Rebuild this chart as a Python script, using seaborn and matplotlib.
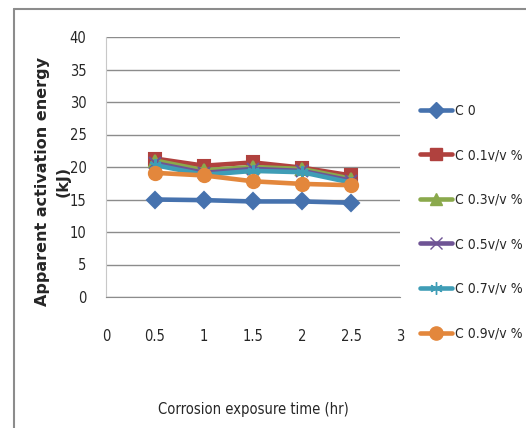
import matplotlib
matplotlib.use("Agg")
import matplotlib.pyplot as plt
import seaborn as sns
import pandas as pd
from matplotlib.lines import Line2D

time_hr = [0.5, 1.0, 1.5, 2.0, 2.5]
series_names = ["C 0", "C 0.1v/v %", "C 0.3v/v %", "C 0.5v/v %", "C 0.7v/v %", "C 0.9v/v %"]
c0 = [15.0, 14.9, 14.7, 14.7, 14.5]
c01 = [21.3, 20.2, 20.7, 19.9, 18.7]
c03 = [21.0, 19.5, 20.0, 19.7, 18.2]
c05 = [20.6, 19.1, 19.7, 19.4, 17.9]
c07 = [20.3, 18.8, 19.4, 19.2, 17.6]
c09 = [19.1, 18.7, 17.8, 17.4, 17.2]
x_ticks = [0, 0.5, 1, 1.5, 2, 2.5, 3]
x_tick_labels = ["0", "0.5", "1", "1.5", "2", "2.5", "3"]
y_ticks = [0, 5, 10, 15, 20, 25, 30, 35, 40]

values = [c0, c01, c03, c05, c07, c09]
rows = []
for name, vals in zip(series_names, values):
    for t, v in zip(time_hr, vals):
        rows.append({"time": t, "energy": v, "series": name})
df = pd.DataFrame(rows)

colors = ["#4672AE", "#B0413E", "#8AA94C", "#6F5495", "#3F9DB6", "#E3873C"]
markers = ["D", "s", "^", "x", (6, 2, 0), "o"]
msizes = [8, 8.5, 8.5, 8.5, 9, 9.5]

sns.set_style("white")
plt.rcParams["font.family"] = ["DejaVu Sans"]
narrow = dict(family=["DejaVu Sans"], stretch="condensed")

fig = plt.figure(figsize=(5.26, 4.28), dpi=100)
ax = fig.add_axes([106/526, (428-297)/428, (400-106)/526, (297-37)/428])

palette = dict(zip(series_names, colors))
sns.lineplot(data=df, x="time", y="energy", hue="series", palette=palette,
             hue_order=series_names, legend=False, ax=ax, linewidth=3.3)
for line, m, ms, c in zip(ax.get_lines(), markers, msizes, colors):
    line.set_marker(m)
    line.set_markersize(ms)
    line.set_markerfacecolor(c)
    line.set_markeredgecolor(c)
    line.set_markeredgewidth(1.5)

ax.set_xlim(0, 3)
ax.set_ylim(0, 40)
ax.set_xticks(x_ticks)
ax.set_xticklabels(x_tick_labels, fontdict=narrow)
ax.set_yticks(y_ticks)
ax.set_yticklabels([str(v) for v in y_ticks], fontdict=narrow)
ax.yaxis.grid(True, color="#8c8c8c", linewidth=1.0)
ax.xaxis.grid(False)
for s in ["top", "right"]:
    ax.spines[s].set_visible(False)
ax.spines["left"].set_color("#c8c8c8")
ax.spines["bottom"].set_color("#8c8c8c")
ax.tick_params(axis="x", direction="out", length=6, color="#8c8c8c", pad=17, labelsize=10.5)
ax.tick_params(axis="y", direction="out", length=6, color="#8c8c8c", pad=8, labelsize=10.5)
ax.set_xlabel("Corrosion exposure time (hr)", fontsize=10.5, labelpad=42,
              family=["DejaVu Sans"], stretch="condensed")
ax.set_ylabel("")

fig.text(43/526, 1 - 181/428, "Apparent activation energy", rotation=90,
         ha="center", va="center", fontsize=11.5, fontweight="bold",
         family=["DejaVu Sans"], stretch="normal")
fig.text(63/526, 1 - 181/428, "(kJ)", rotation=90,
         ha="center", va="center", fontsize=11.5, fontweight="bold",
         family=["DejaVu Sans"], stretch="normal")

handles = [Line2D([0], [0], color=c, linewidth=3.3, marker=m, markersize=ms,
                  markerfacecolor=c, markeredgecolor=c)
           for c, m, ms in zip(colors, markers, msizes)]
leg = ax.legend(handles, series_names, loc="upper left", bbox_to_anchor=(1.05, 0.765),
                frameon=False, labelspacing=2.2, handlelength=2.3,
                handletextpad=0.2, borderaxespad=0,
                prop=dict(family=["DejaVu Sans"], stretch="condensed", size=10))

fig.add_artist(Line2D([14/526, 14/526], [0, 1 - 9/428], color="#8c8c8c", linewidth=1.5,
                      transform=fig.transFigure))
fig.add_artist(Line2D([14/526, 1], [1 - 9/428, 1 - 9/428], color="#8c8c8c", linewidth=1.5,
                      transform=fig.transFigure))

fig.savefig("out.png", dpi=100)
